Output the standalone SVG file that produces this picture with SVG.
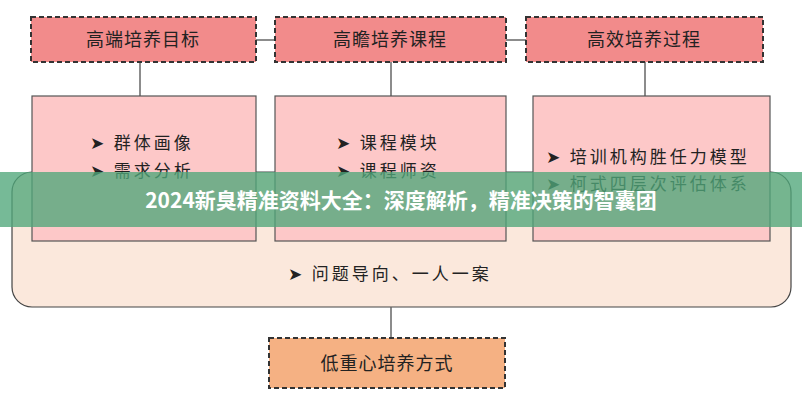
<svg xmlns="http://www.w3.org/2000/svg" width="802" height="400" viewBox="0 0 802 400">
<style>
.hd{fill:#f28b8b;stroke:#333;stroke-width:2;stroke-dasharray:5,3}
.bt{fill:#f5b183;stroke:#333;stroke-width:2;stroke-dasharray:5,3}
.ct{fill:#fdc8c8;stroke:#555;stroke-width:1.2}
.t{font-family:"Noto Sans CJK SC",sans-serif;fill:#222}
.h{font-size:18px;letter-spacing:1px}
.i{font-size:17px;letter-spacing:3px}
.ln{stroke:#666;stroke-width:1.5;fill:none}
</style>
<rect width="802" height="400" fill="#fff"/>
<g id="outer"><rect x="12" y="172" width="779" height="135" rx="20" fill="#fbe8dc" stroke="#444" stroke-width="1.2"/>
<text class="t i" x="288" y="280">➤  问题导向、一人一案</text></g>
<g id="connectors">
<line class="ln" x1="256" y1="40" x2="275" y2="40"/>
<line class="ln" x1="506" y1="40" x2="526" y2="40"/>
<line class="ln" x1="140" y1="62" x2="140" y2="96"/>
<line class="ln" x1="391" y1="62" x2="391" y2="96"/>
<line class="ln" x1="645" y1="62" x2="645" y2="96"/>
<line class="ln" x1="391" y1="307" x2="391" y2="338"/>
</g>
<g id="h1"><rect class="hd" x="31" y="17" width="225" height="45"/><text class="t h" x="143" y="46" text-anchor="middle">高端培养目标</text></g>
<g id="h2"><rect class="hd" x="275" y="17" width="231" height="45"/><text class="t h" x="390" y="46" text-anchor="middle">高瞻培养课程</text></g>
<g id="h3"><rect class="hd" x="526" y="17" width="237" height="45"/><text class="t h" x="644" y="46" text-anchor="middle">高效培养过程</text></g>
<g id="c1"><rect class="ct" x="32" y="96" width="224" height="145"/>
<text class="t i" x="90" y="149">➤ 群体画像</text><text class="t i" x="90" y="177">➤ 需求分析</text></g>
<g id="c2"><rect class="ct" x="275" y="96" width="231" height="145"/>
<text class="t i" x="336" y="149">➤ 课程模块</text><text class="t i" x="336" y="177">➤ 课程师资</text></g>
<g id="c3"><rect class="ct" x="533" y="96" width="237" height="145"/>
<text class="t i" x="546" y="163" letter-spacing="1.5">➤ 培训机构胜任力模型</text><text class="t i" x="546" y="190" letter-spacing="1.5">➤ 柯式四层次评估体系</text></g>
<g id="b"><rect class="bt" x="269" y="338" width="236" height="50"/><text class="t h" x="387" y="370" text-anchor="middle">低重心培养方式</text></g>
<g id="banner"><rect x="0" y="172" width="802" height="55" fill="#4fa77a" opacity="0.78"/>
<text x="401" y="208" text-anchor="middle" font-family="'Noto Sans CJK SC',sans-serif" font-size="21" font-weight="bold" fill="#fff">2024新臭精准资料大全：深度解析，精准决策的智囊团</text></g>
</svg>
